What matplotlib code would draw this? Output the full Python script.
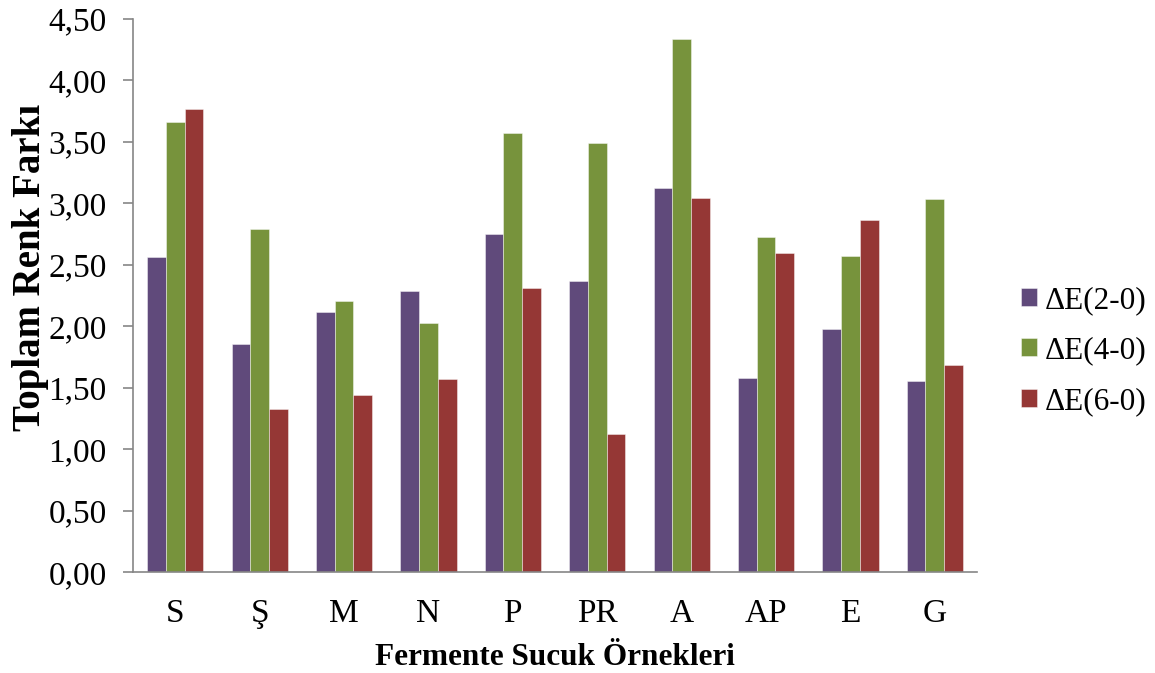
import matplotlib
matplotlib.use("Agg")
import matplotlib.pyplot as plt
import numpy as np
from matplotlib.ticker import FuncFormatter, MultipleLocator

categories = ["S", "Ş", "M", "N", "P", "PR", "A", "AP", "E", "G"]
series_names = ["ΔE(2-0)", "ΔE(4-0)", "ΔE(6-0)"]
de_2_0 = [2.567, 1.857, 2.117, 2.29, 2.749, 2.367, 3.123, 1.58, 1.976, 1.558]
de_4_0 = [3.665, 2.79, 2.207, 2.03, 3.57, 3.489, 4.335, 2.729, 2.575, 3.036]
de_6_0 = [3.765, 1.328, 1.44, 1.57, 2.312, 1.125, 3.044, 2.594, 2.868, 1.689]
colors = ["#604A7B", "#77933C", "#953735"]

plt.rcParams['font.family'] = ['Liberation Serif', 'DejaVu Serif']

fig = plt.figure(figsize=(11.55, 6.73), dpi=100)
ax = fig.add_axes([0.1152, 0.1496, 0.8459 - 0.1152, 0.9718 - 0.1496])

x = np.arange(len(categories))
w = 0.222
for i, (vals, c, name) in enumerate(zip([de_2_0, de_4_0, de_6_0], colors, series_names)):
    ax.bar(x + (i - 1) * w, vals, width=w, color=c, edgecolor=(1, 1, 1, 0.5),
           linewidth=0.6, label=name, zorder=2)

ax.set_xlim(-0.5, len(categories) - 0.5)
ax.set_ylim(0, 4.5)
ax.yaxis.set_major_locator(MultipleLocator(0.5))
ax.yaxis.set_major_formatter(FuncFormatter(lambda v, p: f"{v:.2f}".replace(".", ",")))
ax.set_xticks(x)
ax.set_xticklabels(categories)

for s in ["top", "right"]:
    ax.spines[s].set_visible(False)
for s in ["left", "bottom"]:
    ax.spines[s].set_color("#868686")
    ax.spines[s].set_linewidth(1.2)
ax.tick_params(axis="y", length=7, width=1.2, color="#868686", labelsize=24, pad=12)
ax.tick_params(axis="x", length=0, labelsize=24, pad=19)

ax.set_ylabel("Toplam Renk Farkı", fontsize=28, fontweight="bold")
ax.yaxis.set_label_coords(-0.100, 0.551)
ax.set_xlabel("Fermente Sucuk Örnekleri", fontsize=22.5, fontweight="bold", labelpad=10)

ax.legend(loc="center left", bbox_to_anchor=(1.019, 0.40), frameon=False, fontsize=22.5,
          handlelength=0.5, handleheight=0.5, handletextpad=0.25, labelspacing=0.68,
          borderaxespad=0.5)

fig.savefig("out.png", dpi=100)
